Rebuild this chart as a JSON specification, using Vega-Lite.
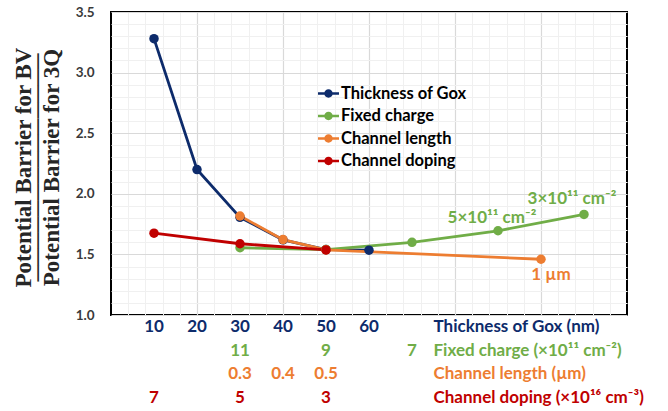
{
  "$schema": "https://vega.github.io/schema/vega-lite/v6.json",
  "width": 516,
  "height": 303,
  "autosize": {"type": "none"},
  "padding": {"left": 111, "top": 12, "right": 41, "bottom": 96},
  "background": "white",
  "config": {
    "view": {"stroke": "#000000", "strokeWidth": 2},
    "font": "Lato"
  },
  "datasets": {
    "lines": [
      {"series": "Thickness of Gox", "x": 10, "y": 3.28},
      {"series": "Thickness of Gox", "x": 20, "y": 2.2},
      {"series": "Thickness of Gox", "x": 30, "y": 1.806},
      {"series": "Thickness of Gox", "x": 40, "y": 1.62},
      {"series": "Thickness of Gox", "x": 50, "y": 1.54},
      {"series": "Thickness of Gox", "x": 60, "y": 1.535},
      {"series": "Fixed charge", "x": 30, "y": 1.555},
      {"series": "Fixed charge", "x": 50, "y": 1.54},
      {"series": "Fixed charge", "x": 70, "y": 1.6},
      {"series": "Fixed charge", "x": 90, "y": 1.695},
      {"series": "Fixed charge", "x": 110, "y": 1.83},
      {"series": "Channel length", "x": 30, "y": 1.817},
      {"series": "Channel length", "x": 40, "y": 1.622},
      {"series": "Channel length", "x": 50, "y": 1.538},
      {"series": "Channel length", "x": 100, "y": 1.46},
      {"series": "Channel doping", "x": 10, "y": 1.675},
      {"series": "Channel doping", "x": 30, "y": 1.588},
      {"series": "Channel doping", "x": 50, "y": 1.537}
    ],
    "notes": [
      {"series": "Fixed charge", "x": 107.2, "y": 1.957, "label": "3×10¹¹ cm⁻²"},
      {"series": "Fixed charge", "x": 88.6, "y": 1.8, "label": "5×10¹¹ cm⁻²"},
      {"series": "Channel length", "x": 102.3, "y": 1.33, "label": "1 µm"}
    ],
    "ticks": [
      {"series": "Thickness of Gox", "x": 10, "label": "10"},
      {"series": "Thickness of Gox", "x": 20, "label": "20"},
      {"series": "Thickness of Gox", "x": 30, "label": "30"},
      {"series": "Thickness of Gox", "x": 40, "label": "40"},
      {"series": "Thickness of Gox", "x": 50, "label": "50"},
      {"series": "Thickness of Gox", "x": 60, "label": "60"},
      {"series": "Fixed charge", "x": 30, "label": "11"},
      {"series": "Fixed charge", "x": 50, "label": "9"},
      {"series": "Fixed charge", "x": 70, "label": "7"},
      {"series": "Channel length", "x": 30, "label": "0.3"},
      {"series": "Channel length", "x": 40, "label": "0.4"},
      {"series": "Channel length", "x": 50, "label": "0.5"},
      {"series": "Channel doping", "x": 10, "label": "7"},
      {"series": "Channel doping", "x": 30, "label": "5"},
      {"series": "Channel doping", "x": 50, "label": "3"}
    ],
    "rowtitles": [
      {"series": "Thickness of Gox", "label": "Thickness of Gox (nm)"},
      {"series": "Fixed charge", "label": "Fixed charge (×10¹¹ cm⁻²)"},
      {"series": "Channel length", "label": "Channel length (µm)"},
      {"series": "Channel doping", "label": "Channel doping (×10¹⁶ cm⁻³)"}
    ]
  },
  "resolve": {
    "scale": {"y": "independent"},
    "axis": {"x": "independent", "y": "independent"},
    "legend": {"color": "independent"}
  },
  "layer": [
    {
      "data": {"name": "lines"},
      "mark": {"type": "line", "strokeWidth": 2.8},
      "encoding": {
        "x": {
          "field": "x", "type": "quantitative",
          "scale": {"domain": [0, 120], "nice": false, "zero": false},
          "axis": {
            "orient": "bottom",
            "values": [4, 8, 12, 16, 24, 28, 32, 36, 44, 48, 52, 56, 64, 68, 72, 76, 84, 88, 92, 96, 104, 108, 112, 116],
            "grid": true, "gridColor": "#f0f0f0", "gridWidth": 1,
            "labels": false, "ticks": false, "domain": false, "title": null
          }
        },
        "y": {
          "field": "y", "type": "quantitative",
          "scale": {"domain": [1, 3.5], "nice": false, "zero": false},
          "axis": {
            "orient": "left",
            "values": [1.1, 1.2, 1.3, 1.4, 1.6, 1.7, 1.8, 1.9, 2.1, 2.2, 2.3, 2.4, 2.6, 2.7, 2.8, 2.9, 3.1, 3.2, 3.3, 3.4],
            "grid": true, "gridColor": "#f0f0f0", "gridWidth": 1,
            "labels": false, "ticks": false, "domain": false, "title": null
          }
        },
        "color": {
          "field": "series", "type": "nominal",
          "scale": {
            "domain": ["Thickness of Gox", "Fixed charge", "Channel length", "Channel doping"],
            "range": ["#0d2b6b", "#70ad47", "#ed7d31", "#c00000"]
          },
          "legend": null
        },
        "detail": {"field": "series"}
      }
    },
    {
      "data": {"name": "lines"},
      "mark": {"type": "point", "filled": true, "size": 90, "opacity": 1},
      "encoding": {
        "x": {
          "field": "x", "type": "quantitative",
          "scale": {"domain": [0, 120], "nice": false, "zero": false},
          "axis": {
            "orient": "bottom",
            "values": [20, 40, 60, 80, 100],
            "grid": true, "gridColor": "#d9d9d9", "gridWidth": 1.2,
            "labels": false, "ticks": false, "domain": false, "title": null
          }
        },
        "y": {
          "field": "y", "type": "quantitative",
          "scale": {"domain": [1, 3.5], "nice": false, "zero": false},
          "axis": {
            "orient": "left",
            "values": [1, 1.5, 2, 2.5, 3, 3.5],
            "format": ".1f",
            "grid": true, "gridColor": "#d9d9d9", "gridWidth": 1.2,
            "ticks": false, "domain": false,
            "labelFont": "Lato", "labelFontSize": 13.5, "labelFontWeight": "bold", "labelColor": "#3a3a3a",
            "labelPadding": 17,
            "title": ["Potential Barrier for BV", "──────────────", "Potential Barrier for 3Q"],
            "titleFont": "Liberation Serif, DejaVu Sans",
            "titleFontSize": 23,
            "titleFontWeight": "bold",
            "titleColor": "#262626",
            "titleLineHeight": 14,
            "titleAngle": 270,
            "titleAlign": "center",
            "titleBaseline": "alphabetic",
            "titleX": -81,
            "titleY": 155
          }
        },
        "color": {
          "field": "series", "type": "nominal",
          "scale": {
            "domain": ["Thickness of Gox", "Fixed charge", "Channel length", "Channel doping"],
            "range": ["#0d2b6b", "#70ad47", "#ed7d31", "#c00000"]
          },
          "legend": {
            "orient": "none",
            "legendX": 207,
            "legendY": 71,
            "title": null,
            "padding": 0,
            "labelFont": "Lato",
            "labelFontSize": 16.5,
            "labelFontWeight": "bold",
            "labelColor": "#000000",
            "labelOffset": 2,
            "symbolType": "M-1,-0.12L1,-0.12L1,0.12L-1,0.12Z M-0.4,0A0.4,0.4 0 1,1 0.4,0A0.4,0.4 0 1,1 -0.4,0Z",
            "symbolSize": 441,
            "symbolStrokeWidth": 0,
            "symbolOpacity": 1,
            "rowPadding": 3.5
          }
        }
      }
    },
    {
      "data": {"name": "notes"},
      "mark": {"type": "text", "font": "Lato", "fontSize": 17, "fontWeight": "bold", "align": "center", "baseline": "middle"},
      "encoding": {
        "x": {"field": "x", "type": "quantitative", "scale": {"domain": [0, 120], "nice": false, "zero": false}, "axis": null},
        "y": {"field": "y", "type": "quantitative", "scale": {"domain": [1, 3.5], "nice": false, "zero": false}, "axis": null},
        "text": {"field": "label"},
        "color": {"field": "series", "type": "nominal", "legend": null}
      }
    },
    {
      "data": {"name": "ticks"},
      "mark": {"type": "text", "font": "Lato", "fontSize": 17, "fontWeight": "bold", "align": "center", "baseline": "middle"},
      "encoding": {
        "x": {"field": "x", "type": "quantitative", "scale": {"domain": [0, 120], "nice": false, "zero": false}, "axis": null},
        "y": {
          "field": "series", "type": "nominal",
          "scale": {"type": "point", "domain": ["Thickness of Gox", "Fixed charge", "Channel length", "Channel doping"], "range": [315, 386], "padding": 0},
          "axis": null
        },
        "text": {"field": "label"},
        "color": {"field": "series", "type": "nominal", "legend": null}
      }
    },
    {
      "data": {"name": "rowtitles"},
      "mark": {"type": "text", "font": "Lato", "fontSize": 17, "fontWeight": "bold", "align": "left", "baseline": "middle"},
      "encoding": {
        "x": {"datum": 75, "type": "quantitative", "scale": {"domain": [0, 120], "nice": false, "zero": false}, "axis": null},
        "y": {
          "field": "series", "type": "nominal",
          "scale": {"type": "point", "domain": ["Thickness of Gox", "Fixed charge", "Channel length", "Channel doping"], "range": [315, 386], "padding": 0},
          "axis": null
        },
        "text": {"field": "label"},
        "color": {"field": "series", "type": "nominal", "legend": null}
      }
    }
  ]
}
